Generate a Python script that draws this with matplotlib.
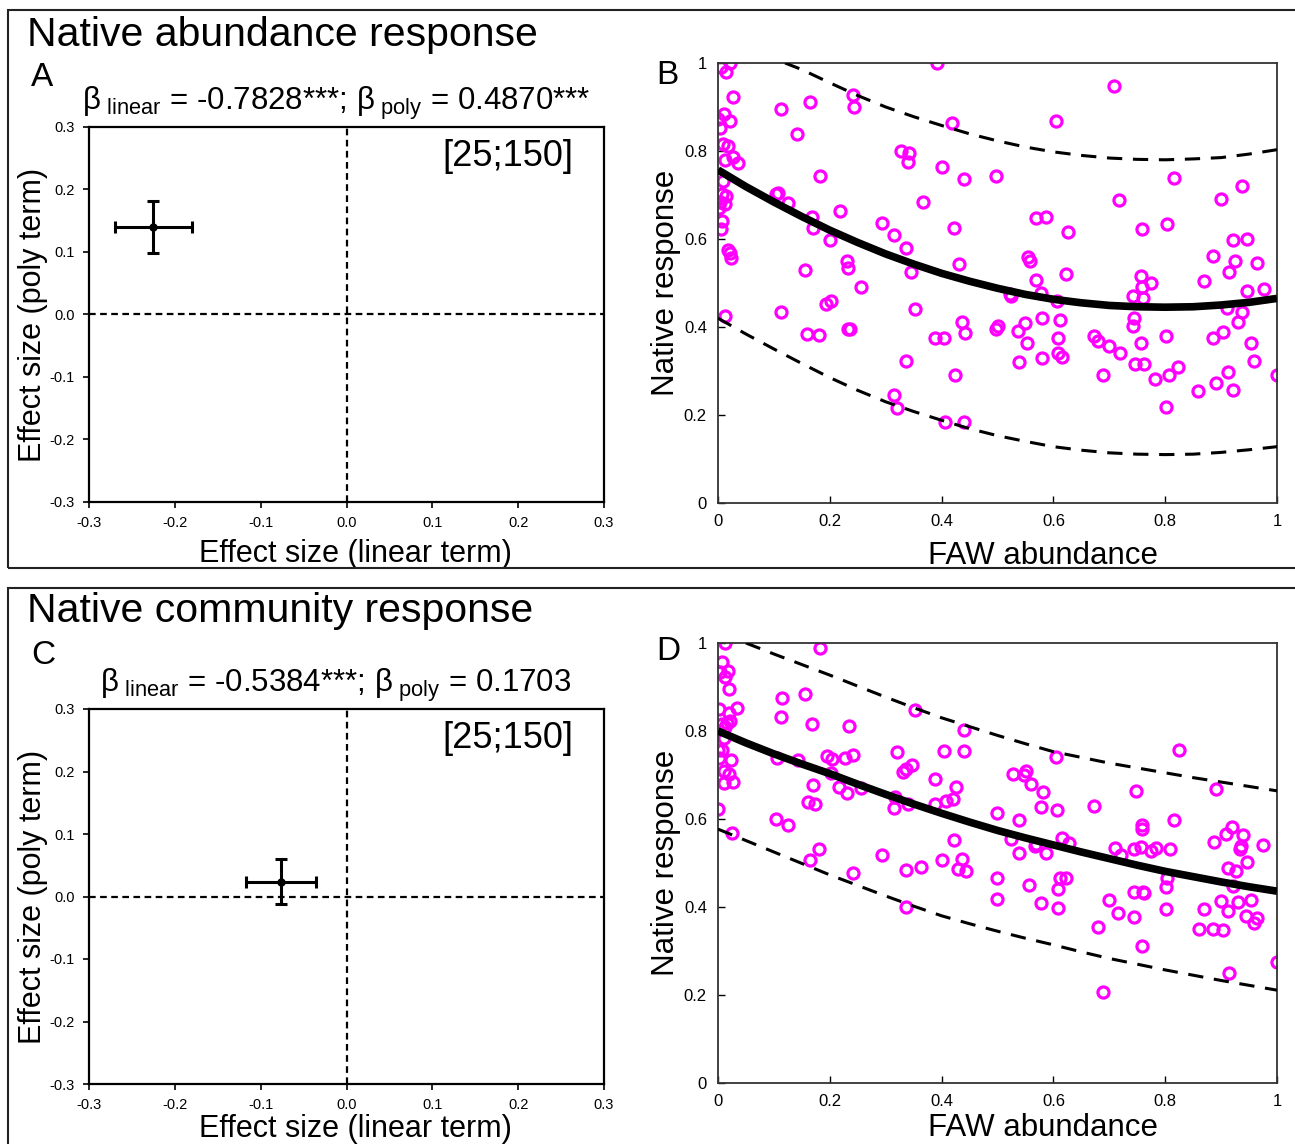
import matplotlib
matplotlib.use("Agg")
import matplotlib.pyplot as plt
from matplotlib.patches import Rectangle

plt.rcParams['font.family'] = ['Liberation Sans', 'DejaVu Sans']
plt.rcParams['mathtext.fontset'] = 'custom'
plt.rcParams['mathtext.rm'] = 'Liberation Sans'
plt.rcParams['mathtext.it'] = 'Liberation Sans:italic'

# ---- effect size panels (A, C) ----
eff_a = (-0.225, 0.140)
err_a = (0.045, 0.042)
eff_c = (-0.076, 0.024)
err_c = (0.041, 0.036)
eff_ticks = [-0.3, -0.2, -0.1, 0.0, 0.1, 0.2, 0.3]
eff_ticklabels = ['-0.3', '-0.2', '-0.1', '0.0', '0.1', '0.2', '0.3']

# ---- panel B: native abundance vs FAW abundance ----
b_x = [0.005, 0.021, 0.015, 0.026, 0.0, 0.011, 0.021, 0.003, 0.009, 0.018, 0.012, 0.026, 0.035,
       0.009, 0.008, 0.015, 0.003, 0.012, 0.001, 0.008, 0.006, 0.017, 0.021, 0.024, 0.012,
       0.113, 0.164, 0.142, 0.242, 0.243, 0.419, 0.391, 0.103, 0.107, 0.125, 0.168, 0.170, 0.183,
       0.201, 0.218, 0.294, 0.315, 0.337, 0.339, 0.328, 0.341, 0.366, 0.400, 0.440, 0.422, 0.431,
       0.346, 0.231, 0.233, 0.255, 0.156, 0.113, 0.194, 0.203, 0.352, 0.160, 0.181, 0.232, 0.236,
       0.388, 0.404, 0.437, 0.442, 0.336, 0.424, 0.315, 0.321, 0.406, 0.440, 0.497, 0.497,
       0.709, 0.604, 0.816, 0.937, 0.717, 0.900, 0.568, 0.587, 0.626, 0.758, 0.804, 0.921, 0.946,
       0.886, 0.925, 0.964, 0.555, 0.559, 0.915, 0.870, 0.756, 0.774, 0.759, 0.743, 0.761, 0.568,
       0.622, 0.577, 0.525, 0.522, 0.607, 0.946, 0.976, 0.910, 0.937, 0.930, 0.903, 0.885, 0.953,
       0.959, 0.500, 0.549, 0.537, 0.552, 0.579, 0.612, 0.609, 0.539, 0.580, 0.609, 0.615, 0.673,
       0.679, 0.700, 0.719, 0.744, 0.743, 0.756, 0.746, 0.762, 0.801, 0.688, 0.782, 0.807, 0.823,
       0.801, 0.859, 0.890, 0.913, 0.921, 1.0]
b_y = [0.992, 1.0, 0.979, 0.923, 0.872, 0.885, 0.869, 0.853, 0.816, 0.812, 0.780, 0.787, 0.772,
       0.731, 0.702, 0.697, 0.683, 0.680, 0.670, 0.640, 0.623, 0.575, 0.569, 0.557, 0.425,
       0.896, 0.911, 0.838, 0.928, 0.900, 0.863, 1.0, 0.702, 0.704, 0.681, 0.651, 0.626, 0.743,
       0.598, 0.663, 0.636, 0.609, 0.579, 0.776, 0.799, 0.795, 0.685, 0.763, 0.736, 0.626, 0.543,
       0.524, 0.550, 0.534, 0.491, 0.529, 0.434, 0.452, 0.459, 0.440, 0.385, 0.381, 0.395, 0.395,
       0.374, 0.376, 0.412, 0.387, 0.323, 0.291, 0.245, 0.216, 0.184, 0.184, 0.744, 0.395,
       0.948, 0.868, 0.738, 0.720, 0.689, 0.691, 0.647, 0.651, 0.615, 0.623, 0.634, 0.597, 0.600,
       0.562, 0.550, 0.545, 0.558, 0.550, 0.525, 0.505, 0.515, 0.500, 0.490, 0.471, 0.465, 0.506,
       0.520, 0.478, 0.471, 0.475, 0.459, 0.482, 0.486, 0.444, 0.434, 0.412, 0.389, 0.376, 0.364,
       0.323, 0.402, 0.409, 0.390, 0.364, 0.421, 0.417, 0.376, 0.321, 0.329, 0.342, 0.332, 0.380,
       0.368, 0.357, 0.341, 0.421, 0.402, 0.363, 0.315, 0.315, 0.379, 0.292, 0.281, 0.291, 0.308,
       0.218, 0.254, 0.273, 0.298, 0.257, 0.292]

fit_x = [0.0, 0.05, 0.1, 0.15, 0.2, 0.25, 0.3, 0.35, 0.4, 0.45, 0.5,
         0.55, 0.6, 0.65, 0.7, 0.75, 0.8, 0.85, 0.9, 0.95, 1.0]
b_fit = [0.757, 0.719, 0.684, 0.651, 0.620, 0.592, 0.566, 0.543, 0.522, 0.504, 0.488,
         0.474, 0.463, 0.455, 0.449, 0.446, 0.445, 0.446, 0.450, 0.456, 0.465]
b_low = [0.420, 0.384, 0.350, 0.317, 0.285, 0.256, 0.230, 0.208, 0.188, 0.169, 0.153,
         0.140, 0.128, 0.120, 0.114, 0.111, 0.110, 0.111, 0.115, 0.121, 0.128]
b_up_x = [0.12, 0.15, 0.2, 0.25, 0.3, 0.35, 0.4, 0.45, 0.5,
          0.55, 0.6, 0.65, 0.7, 0.75, 0.8, 0.85, 0.9, 0.95, 1.0]
b_up = [1.0, 0.985, 0.955, 0.926, 0.900, 0.878, 0.858, 0.839, 0.823,
        0.809, 0.798, 0.790, 0.784, 0.781, 0.780, 0.782, 0.785, 0.793, 0.803]

# ---- panel D: native community vs FAW abundance ----
d_x = [0.012, 0.183, 0.008, 0.004, 0.018, 0.012, 0.019, 0.115, 0.156, 0.002, 0.034, 0.020,
       0.113, 0.168, 0.235, 0.352, 0.440, 0.008, 0.016, 0.022, 0.012, 0.010, 0.0, 0.008, 0.002,
       0.024, 0.106, 0.143, 0.195, 0.204, 0.228, 0.242, 0.202, 0.010, 0.019, 0.010, 0.027, 0.321,
       0.404, 0.440, 0.331, 0.336, 0.347, 0.388, 0.170, 0.216, 0.231, 0.255, 0.161, 0.173, 0.316,
       0.315, 0.340, 0.389, 0.407, 0.421, 0.425, 0.0, 0.103, 0.125, 0.025, 0.499, 0.422, 0.180,
       0.164, 0.294, 0.400, 0.437, 0.430, 0.443, 0.337, 0.364, 0.242, 0.499, 0.499, 0.337,
       0.604, 0.824, 0.527, 0.551, 0.547, 0.560, 0.581, 0.747, 0.890, 0.577, 0.607, 0.673, 0.539,
       0.816, 0.758, 0.759, 0.919, 0.909, 0.939, 0.887, 0.936, 0.934, 0.975, 0.946, 0.615, 0.628,
       0.525, 0.569, 0.567, 0.539, 0.587, 0.710, 0.721, 0.744, 0.757, 0.775, 0.783, 0.808, 0.912,
       0.927, 0.803, 0.921, 0.802, 0.556, 0.612, 0.623, 0.609, 0.578, 0.609, 0.700, 0.716, 0.744,
       0.760, 0.762, 0.745, 0.802, 0.870, 0.900, 0.913, 0.930, 0.953, 0.945, 0.964, 0.959, 0.679,
       0.860, 0.885, 0.904, 0.758, 0.915, 1.0, 0.688]
d_y = [1.0, 0.989, 0.957, 0.934, 0.936, 0.923, 0.896, 0.875, 0.883, 0.850, 0.853, 0.841,
       0.831, 0.816, 0.812, 0.848, 0.803, 0.816, 0.818, 0.822, 0.809, 0.784, 0.757, 0.757, 0.739,
       0.734, 0.738, 0.734, 0.744, 0.737, 0.738, 0.746, 0.704, 0.710, 0.702, 0.681, 0.683, 0.752,
       0.755, 0.755, 0.706, 0.714, 0.723, 0.692, 0.678, 0.672, 0.658, 0.670, 0.638, 0.634, 0.649,
       0.624, 0.634, 0.634, 0.640, 0.645, 0.673, 0.623, 0.601, 0.587, 0.568, 0.614, 0.553, 0.532,
       0.506, 0.519, 0.506, 0.510, 0.487, 0.482, 0.484, 0.490, 0.477, 0.465, 0.419, 0.400,
       0.740, 0.756, 0.702, 0.708, 0.701, 0.680, 0.661, 0.663, 0.669, 0.628, 0.621, 0.630, 0.598,
       0.598, 0.586, 0.577, 0.581, 0.566, 0.563, 0.547, 0.539, 0.532, 0.541, 0.503, 0.557, 0.545,
       0.554, 0.543, 0.538, 0.523, 0.523, 0.534, 0.518, 0.532, 0.537, 0.528, 0.535, 0.532, 0.488,
       0.482, 0.467, 0.448, 0.446, 0.450, 0.465, 0.465, 0.442, 0.408, 0.398, 0.415, 0.387, 0.433,
       0.434, 0.431, 0.378, 0.396, 0.396, 0.413, 0.390, 0.412, 0.415, 0.380, 0.374, 0.363, 0.355,
       0.351, 0.351, 0.348, 0.312, 0.250, 0.275, 0.207]

d_fit = [0.800, 0.773, 0.748, 0.725, 0.703, 0.679, 0.656, 0.634, 0.613, 0.593, 0.574,
         0.557, 0.541, 0.525, 0.510, 0.495, 0.481, 0.469, 0.457, 0.446, 0.436]
d_low = [0.577, 0.551, 0.525, 0.499, 0.473, 0.449, 0.425, 0.402, 0.380, 0.362, 0.345,
         0.329, 0.314, 0.298, 0.283, 0.270, 0.257, 0.245, 0.233, 0.222, 0.211]
d_up_x = [0.05, 0.1, 0.15, 0.2, 0.25, 0.3, 0.35, 0.4, 0.45, 0.5,
          0.55, 0.6, 0.65, 0.7, 0.75, 0.8, 0.85, 0.9, 0.95, 1.0]
d_up = [1.0, 0.975, 0.951, 0.927, 0.902, 0.877, 0.853, 0.830, 0.810, 0.790,
        0.771, 0.753, 0.740, 0.727, 0.716, 0.705, 0.694, 0.684, 0.674, 0.664]

resp_ticks = [0, 0.2, 0.4, 0.6, 0.8, 1]
resp_ticklabels = ['0', '0.2', '0.4', '0.6', '0.8', '1']

W, H = 1295, 1144
fig = plt.figure(figsize=(W / 100, H / 100), dpi=100)


def fx(px):
    return px / W


def fy(py):
    return 1 - py / H


def effect_panel(top, eff, err, beta_txt, xlab_y):
    ax = fig.add_axes([fx(89), fy(top + 375), fx(515), 375 / H])
    ax.set_xlim(-0.3, 0.3)
    ax.set_ylim(-0.3, 0.3)
    ax.axhline(0, color='black', lw=1.6, ls=(0, (3, 2)))
    ax.axvline(0, color='black', lw=1.6, ls=(0, (3, 2)))
    ax.errorbar([eff[0]], [eff[1]], xerr=[err[0]], yerr=[err[1]], fmt='o', color='black',
                ms=5, elinewidth=2.2, capsize=4.5, capthick=2.2)
    ax.set_xticks(eff_ticks)
    ax.set_xticklabels(eff_ticklabels)
    ax.set_yticks(eff_ticks)
    ax.set_yticklabels(eff_ticklabels)
    ax.tick_params(direction='out', labelsize=10.5, length=4, width=1.2, pad=6)
    for s in ax.spines.values():
        s.set_linewidth(1.6)
    ax.set_xlabel('Effect size (linear term)', fontsize=22)
    ax.xaxis.set_label_coords(0.518, xlab_y)
    ax.set_ylabel('Effect size (poly term)', fontsize=22)
    ax.yaxis.set_label_coords(-0.08, 0.5)
    ax.text(0.94, 0.92, '[25;150]', transform=ax.transAxes, ha='right', va='center', fontsize=26)
    fig.text(fx(336), fy(top - 24), beta_txt, ha='center', va='center', fontsize=22.5)
    return ax


def response_panel(top, xs, ys, fit, low, up_x, up, xlab_y):
    ax = fig.add_axes([fx(718), fy(top + 440), fx(559), 440 / H])
    ax.plot(xs, ys, 'o', mfc='none', mec='#ff00ff', ms=8, mew=2.3, zorder=2)
    ax.plot(fit_x, fit, color='black', lw=5.5, solid_capstyle='butt', zorder=3)
    ax.plot(fit_x, low, color='black', lw=2.2, ls=(0, (5, 3.5)), zorder=3)
    ax.plot(up_x, up, color='black', lw=2.2, ls=(0, (5, 3.5)), zorder=3)
    ax.set_xlim(0, 1)
    ax.set_ylim(0, 1)
    ax.set_xticks(resp_ticks)
    ax.set_xticklabels(resp_ticklabels)
    ax.set_yticks(resp_ticks)
    ax.set_yticklabels(resp_ticklabels)
    ax.tick_params(direction='in', labelsize=12, length=5, width=1, pad=8)
    for s in ax.spines.values():
        s.set_linewidth(1.3)
        s.set_color('#333333')
    ax.set_xlabel('FAW abundance', fontsize=22.5)
    ax.xaxis.set_label_coords(0.581, xlab_y)
    ax.set_ylabel('Native response', fontsize=22.5)
    ax.yaxis.set_label_coords(-0.066, 0.5)
    return ax


# panel frames
fig.add_artist(Rectangle((fx(8), fy(568)), 1.2, fy(10) - fy(568), transform=fig.transFigure,
                         fill=False, lw=1.5, ec='#222222'))
fig.add_artist(Rectangle((fx(8), -0.2), 1.2, fy(588) + 0.2, transform=fig.transFigure,
                         fill=False, lw=1.5, ec='#222222'))

fig.text(fx(27), fy(35), 'Native abundance response', fontsize=29.5, va='center')
fig.text(fx(27), fy(611), 'Native community response', fontsize=29.5, va='center')
fig.text(fx(31), fy(77), 'A', fontsize=24, va='center')
fig.text(fx(31), fy(656), 'C', fontsize=24, va='center')
fig.text(fx(656), fy(76), 'B', fontsize=24, va='center')
fig.text(fx(656), fy(651), 'D', fontsize=24, va='center')

effect_panel(127, eff_a, err_a,
             r'β$_{\mathrm{\ linear}}$ = -0.7828***; β$_{\mathrm{\ poly}}$ = 0.4870***', -0.099)
effect_panel(709, eff_c, err_c,
             r'β$_{\mathrm{\ linear}}$ = -0.5384***; β$_{\mathrm{\ poly}}$ = 0.1703', -0.08)
response_panel(63, b_x, b_y, b_fit, b_low, b_up_x, b_up, -0.086)
response_panel(643, d_x, d_y, d_fit, d_low, d_up_x, d_up, -0.068)

fig.savefig('out.png', dpi=100)
